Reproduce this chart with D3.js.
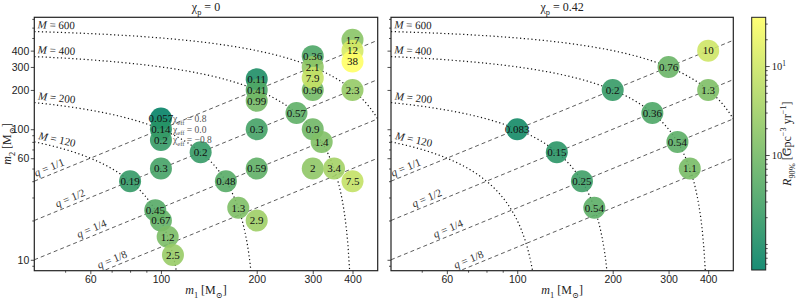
<!DOCTYPE html>
<html>
<head>
<meta charset="utf-8">
<script src="https://cdn.jsdelivr.net/npm/d3@7"></script>
<style>
  body { margin: 0; background: #fff; }
  svg { font-family: "Liberation Serif", "DejaVu Serif", serif; }
</style>
</head>
<body>
<svg id="chart" width="800" height="300"></svg>
<script>
// chi_p = 0 panel
const m1Left   = [80, 96, 100, 105, 109.1, 100, 133.3, 160, 175, 200, 200, 200, 266.7, 300, 320, 300, 350, 400, 300, 400,
                  100, 100, 100, 200, 200, 200, 300, 300, 300, 400, 400, 400];
const m2Left   = [40, 24, 20, 15, 10.9, 50, 66.7, 40, 25, 20, 100, 50, 133.3, 100, 80, 50, 50, 40, 200, 200,
                  100, 100, 100, 200, 200, 200, 300, 300, 300, 400, 400, 400];
const chiLeft  = [0, 0, 0, 0, 0, 0, 0, 0, 0, 0, 0, 0, 0, 0, 0, 0, 0, 0, 0, 0,
                  0.8, 0, -0.8, 0.8, 0, -0.8, 0.8, 0, -0.8, 0.8, 0, -0.8];
const rateLeft = [0.19, 0.45, 0.67, 1.2, 2.5, 0.3, 0.2, 0.48, 1.3, 2.9, 0.3, 0.59, 0.57, 0.9, 1.4, 2, 3.4, 7.5, 0.96, 2.3,
                  0.057, 0.14, 0.2, 0.11, 0.41, 0.99, 0.36, 2.1, 7.9, 1.7, 12, 38];

// chi_p = 0.42 panel
const m1Right   = [100, 133.3, 160, 175, 200, 266.7, 320, 350, 300, 400, 400];
const m2Right   = [100, 66.7, 40, 25, 200, 133.3, 80, 50, 300, 200, 400];
const rateRight = [0.083, 0.15, 0.25, 0.54, 0.2, 0.36, 0.54, 1.1, 0.76, 1.3, 10];

const totalMasses = [120, 200, 400, 600];
const massRatios  = [1, 1/2, 1/4, 1/8];
const ratioNames  = ["1/1", "1/2", "1/4", "1/8"];
const chiEffNames = ["0.8", "0.0", "\u22120.8"];
const panelTitles = ["0", "0.42"];
const xTicks = [60, 100, 200, 300, 400];
const yTicks = [10, 60, 100, 200, 300, 400];
const cbarTicks = [1, 10];

const svg = d3.select("#chart");
const fs = 10.5;
const stackGap = 10.8; // vertical spread of the chi_eff stacks, px

// matplotlib "summer"
function summer(t) {
  t = Math.max(0, Math.min(1, t));
  return d3.rgb(255 * t, 255 * (0.5 + 0.5 * t), 102);
}

function richText(sel, parts, size) {
  let shift = 0;
  parts.forEach(([str, kind]) => {
    const t = sel.append("tspan").text(str);
    let target = 0;
    if (kind === "sub") target = size * 0.3;
    if (kind === "sup") target = -size * 0.4;
    if (kind === "sub" || kind === "sup") t.style("font-size", (size * 0.7) + "px");
    if (kind === "i") t.style("font-style", "italic");
    if (target !== shift) { t.attr("dy", target - shift); shift = target; }
  });
}

function minorTicks(domain, major) {
  const out = [];
  for (let e = -2; e <= 3; e++)
    for (let k = 1; k <= 9; k++) {
      const v = +(k * Math.pow(10, e)).toPrecision(6);
      if (v > domain[0] * 1.01 && v < domain[1] * 0.99 && major.indexOf(v) < 0) out.push(v);
    }
  return out;
}

const yScale = d3.scaleLog().domain([8.25, 720]).range([270.7, 17.3]);
const color = d3.scaleLog().domain([0.051, 35.3]).range([0, 1]);

const panels = [
  { x: d3.scaleLog().domain([40, 480]).range([34.3, 377.7]), m1: m1Left, m2: m2Left, chi: chiLeft, rate: rateLeft, labels: true },
  { x: d3.scaleLog().domain([40, 480]).range([391, 733.3]), m1: m1Right, m2: m2Right, chi: m1Right.map(() => 0), rate: rateRight, labels: false }
];

panels.forEach((p, pi) => {
  const x = p.x, y = yScale;
  const [x0, x1] = x.range();
  const [y1, y0] = y.range();
  const g = svg.append("g");

  const clipId = "clip" + pi;
  svg.append("clipPath").attr("id", clipId)
    .append("rect").attr("x", x0).attr("y", y0).attr("width", x1 - x0).attr("height", y1 - y0);
  const plot = g.append("g").attr("clip-path", `url(#${clipId})`);

  // q = const (dashed)
  massRatios.forEach(q => {
    plot.append("line")
      .attr("x1", x(40)).attr("y1", y(40 * q))
      .attr("x2", x(480)).attr("y2", y(480 * q))
      .attr("stroke", "#333").attr("stroke-width", 0.8)
      .attr("stroke-dasharray", "4,3");
  });

  // M = const (dotted)
  totalMasses.forEach(M => {
    const lo = Math.log(40), hi = Math.log(Math.min(M - 8.25, 480));
    const pts = d3.range(0, 201).map(i => {
      const m1 = Math.exp(lo + (hi - lo) * i / 200);
      return [x(m1), y(Math.max(M - m1, 8.25))];
    });
    plot.append("path").attr("d", d3.line()(pts))
      .attr("fill", "none").attr("stroke", "#111").attr("stroke-width", 1.2)
      .attr("stroke-dasharray", "1.2,2.6");
  });

  // line labels
  function curveLabel(f, m1, parts, fill) {
    const px = x(m1), py = y(f(m1));
    const px2 = x(m1 * 1.02), py2 = y(f(m1 * 1.02));
    const ang = Math.atan2(py2 - py, px2 - px) * 180 / Math.PI;
    const t = g.append("text")
      .attr("transform", `translate(${px},${py}) rotate(${ang})`)
      .attr("y", -3.5)
      .style("font-size", "11px").attr("fill", fill);
    richText(t, parts, 11);
  }
  totalMasses.forEach(M => {
    curveLabel(m => M - m, 40.9, [["M", "i"], [" = " + M]], "#222");
  });
  const qLabelAt = [40.9, 47.6, 55.6, 64.5];
  massRatios.forEach((q, i) => {
    curveLabel(m => m * q, qLabelAt[i], [["q", "i"], [" = " + ratioNames[i]]], "#333");
  });

  // circles first, then every value on top
  const idx = d3.range(p.m1.length);
  const cy = i => y(p.m2[i]) - p.chi[i] / 0.8 * stackGap;
  plot.selectAll("circle.dot").data(idx).enter().append("circle").attr("class", "dot")
    .attr("cx", i => x(p.m1[i])).attr("cy", cy).attr("r", 11)
    .attr("fill", i => summer(color(p.rate[i])))
    .attr("fill-opacity", 0.9);
  plot.selectAll("text.val").data(idx).enter().append("text").attr("class", "val")
    .attr("x", i => x(p.m1[i])).attr("y", cy).attr("dy", "0.35em")
    .attr("text-anchor", "middle").style("font-size", "11px").attr("fill", "#111")
    .text(i => String(p.rate[i]));

  if (p.labels) {
    chiEffNames.forEach((s, k) => {
      const t = g.append("text")
        .attr("x", 173).attr("y", y(100) + (k - 1) * stackGap).attr("dy", "0.35em")
        .style("font-size", "9.5px").attr("fill", "#555");
      richText(t, [["\u03c7"], ["eff", "sub"], [" = " + s]], 9.5);
    });
  }

  // axes
  const xa = g.append("g").attr("transform", `translate(0,${y1})`);
  xa.call(d3.axisBottom(x).tickValues(xTicks).tickFormat(d3.format("d")).tickSize(3.5).tickPadding(1.5));
  const xm = g.append("g").attr("transform", `translate(0,${y1})`);
  xm.call(d3.axisBottom(x).tickValues(minorTicks(x.domain(), xTicks)).tickFormat("").tickSize(2));
  const ya = g.append("g").attr("transform", `translate(${x0},0)`);
  ya.call(d3.axisLeft(y).tickValues(yTicks).tickFormat(p.labels ? d3.format("d") : "").tickSize(3.5).tickPadding(1.5));
  const ym = g.append("g").attr("transform", `translate(${x0},0)`);
  ym.call(d3.axisLeft(y).tickValues(minorTicks(y.domain(), yTicks)).tickFormat("").tickSize(2));
  g.selectAll(".domain").remove();
  g.selectAll(".tick line").attr("stroke", "#222").attr("stroke-width", 0.8);
  g.selectAll(".tick text").style("font-size", fs + "px").style("font-family", "inherit").attr("fill", "#222");

  g.append("rect").attr("x", x0).attr("y", y0).attr("width", x1 - x0).attr("height", y1 - y0)
    .attr("fill", "none").attr("stroke", "#222").attr("stroke-width", 1.2);

  // title and axis labels
  const title = g.append("text").attr("x", (x0 + x1) / 2).attr("y", 11)
    .attr("text-anchor", "middle").style("font-size", "12px").attr("fill", "#222");
  richText(title, [["\u03c7"], ["p", "sub"], [" = " + panelTitles[pi]]], 12);

  const xl = g.append("text").attr("x", (x0 + x1) / 2).attr("y", 294)
    .attr("text-anchor", "middle").style("font-size", "12px").attr("fill", "#222");
  richText(xl, [["m", "i"], ["1", "sub"], [" [M"], ["\u2299", "sub"], ["]"]], 12);

  if (p.labels) {
    const yl = g.append("text").attr("transform", `translate(11,${(y0 + y1) / 2}) rotate(-90)`)
      .attr("text-anchor", "middle").style("font-size", "12px").attr("fill", "#222");
    richText(yl, [["m", "i"], ["2", "sub"], [" [M"], ["\u2299", "sub"], ["]"]], 12);
  }
});

// colorbar
const cb = { x0: 751.7, x1: 765.7, y0: 17.3, y1: 270 };
const cbScale = d3.scaleLog().domain(color.domain()).range([cb.y1, cb.y0]);
const grad = svg.append("defs").append("linearGradient").attr("id", "cbgrad")
  .attr("x1", 0).attr("y1", 1).attr("x2", 0).attr("y2", 0);
d3.range(0, 11).forEach(i => {
  grad.append("stop").attr("offset", i / 10).attr("stop-color", summer(i / 10)).attr("stop-opacity", 0.9);
});
svg.append("rect").attr("x", cb.x0).attr("y", cb.y0).attr("width", cb.x1 - cb.x0).attr("height", cb.y1 - cb.y0)
  .attr("fill", "url(#cbgrad)").attr("stroke", "#222").attr("stroke-width", 1);

const cbg = svg.append("g").attr("transform", `translate(${cb.x1},0)`);
cbg.call(d3.axisRight(cbScale).tickValues(minorTicks(cbScale.domain(), cbarTicks)).tickFormat("").tickSize(2));
cbg.call(g2 => g2.select(".domain").remove());
const cbMajor = svg.append("g").attr("transform", `translate(${cb.x1},0)`);
cbMajor.call(d3.axisRight(cbScale).tickValues(cbarTicks).tickFormat("").tickSize(4));
cbMajor.select(".domain").remove();
svg.selectAll(".tick line").attr("stroke", "#222").attr("stroke-width", 0.8);
cbarTicks.forEach(v => {
  const t = svg.append("text").attr("x", cb.x1 + 6).attr("y", cbScale(v)).attr("dy", "0.35em")
    .style("font-size", fs + "px").attr("fill", "#222");
  richText(t, [["10"], [String(Math.round(Math.log10(v))), "sup"]], fs);
});
const cbl = svg.append("text").attr("transform", `translate(791,${(cb.y0 + cb.y1) / 2}) rotate(-90)`)
  .attr("text-anchor", "middle").style("font-size", "12px").attr("fill", "#222");
richText(cbl, [["R", "i"], ["90%", "sub"], [" [Gpc"], ["\u22123", "sup"], [" yr"], ["\u22121", "sup"], ["]"]], 12);
</script>
</body>
</html>
